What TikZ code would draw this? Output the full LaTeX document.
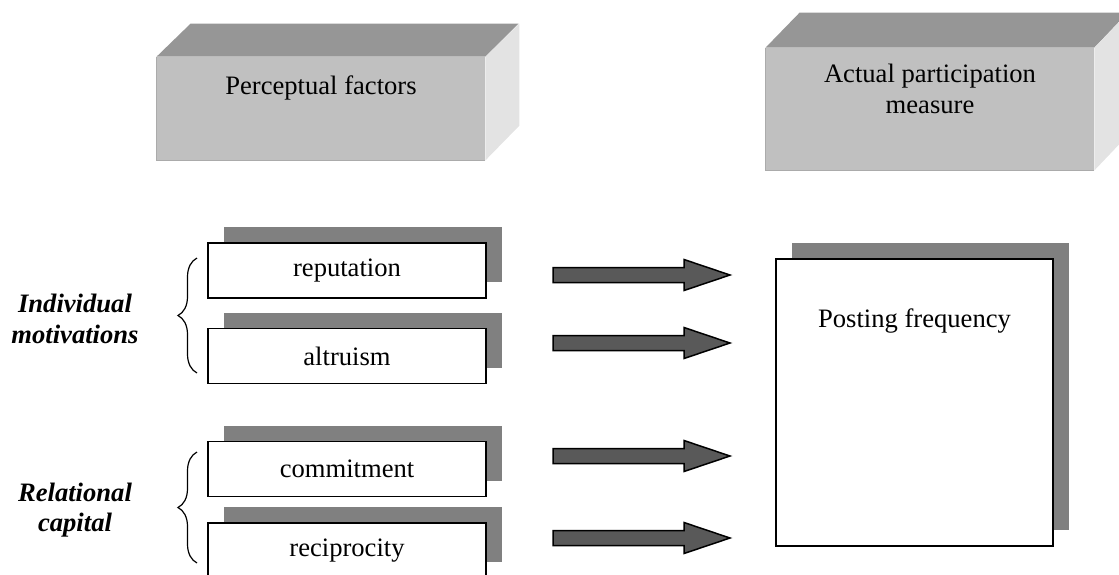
\documentclass[tikz,border=0pt]{standalone}
\usepackage{fontspec}
\setmainfont{Liberation Serif}
\usetikzlibrary{calc,shadows,decorations.pathreplacing}
\definecolor{frontgray}{HTML}{C0C0C0}
\definecolor{topgray}{HTML}{969696}
\definecolor{sidegray}{HTML}{E3E3E3}
\definecolor{shadegray}{HTML}{808080}
\definecolor{arrowgray}{HTML}{595959}
\definecolor{edgegray}{HTML}{ABABAB}
\newcommand{\blockarr}[2]{%
  \draw[blockarrow] ($(#1)+(0,-7.5)$) -- ($(#2)+(-46,-7.5)$) -- ($(#2)+(-46,-15.5)$) -- (#2)
    -- ($(#2)+(-46,15.5)$) -- ($(#2)+(-46,7.5)$) -- ($(#1)+(0,7.5)$) -- cycle;}
\begin{document}
\begin{tikzpicture}[x=0.5pt,y=-0.5pt,
  txt/.style={font=\fontsize{13.3}{15.3}\selectfont},
  grouplab/.style={font=\fontsize{13.3}{15.3}\selectfont\bfseries\itshape, align=center},
  facebox/.style={rectangle, fill=frontgray, minimum width=164pt, inner sep=0pt},
  boxshadow/.style={drop shadow={shadow xshift=8pt, shadow yshift=8pt, opacity=1, fill=shadegray}},
  factorbox/.style={rectangle, draw=black, line width=0.8pt, fill=white, minimum width=139pt,
    minimum height=27.5pt, inner sep=0pt, txt, boxshadow},
  blockarrow/.style={fill=arrowgray, draw=black, line width=0.75pt, line join=miter},
  bracestyle/.style={decorate, decoration={brace, amplitude=9.5pt}, line width=0.6pt}
]
\useasboundingbox (0,0) rectangle (1119,574);
\clip (0,0) rectangle (1119,574);

% 3D header boxes
\node[facebox, minimum height=51.5pt] (pfbox) at (321,108.5) {};
\fill[topgray] (pfbox.north west) -- ++(34,-33) -- ++(328,0) -- (pfbox.north east) -- cycle;
\fill[sidegray] (pfbox.north east) -- ++(34,-33) -- ++(0,102) -- (pfbox.south east) -- cycle;
\draw[edgegray, line width=0.6pt] (pfbox.north west) -- (pfbox.south west) -- (pfbox.south east);
\node[txt] (pftext) at (321,88) {Perceptual factors};

\node[facebox, minimum height=61pt] (ambox) at (930,109) {};
\fill[topgray] (ambox.north west) -- ++(34,-35) -- ++(328,0) -- (ambox.north east) -- cycle;
\fill[sidegray] (ambox.north east) -- ++(34,-35) -- ++(0,122) -- (ambox.south east) -- cycle;
\draw[edgegray, line width=0.6pt] (ambox.north west) -- (ambox.south west) -- (ambox.south east);
\node[txt, align=center] (amtext) at (930,89) {Actual participation\\measure};

% factor boxes
\node[factorbox] (rep) at (347,270.5) {reputation};
\node[factorbox] (alt) at (347,356) {altruism};
\node[factorbox] (com) at (347,469) {commitment};
\node[factorbox] (rec) at (347,550.5) {reciprocity};

% posting frequency
\node[rectangle, draw=black, line width=0.8pt, fill=white, minimum width=138.5pt,
  minimum height=143.5pt, inner sep=0pt, boxshadow] (post) at (914.5,402.5) {};
\node[txt] (posttext) at (914.5,321) {Posting frequency};

% group labels and braces
\node[grouplab] (indiv) at (75,319) {Individual\\motivations};
\node[grouplab] (relcap) at (75,510) {Relational\\capital};
\coordinate (b1top) at (197,258);
\coordinate (b1bot) at (197,373);
\coordinate (b2top) at (197,452);
\coordinate (b2bot) at (197,563);
\draw[bracestyle] (b1bot) -- (b1top);
\draw[bracestyle] (b2bot) -- (b2top);

% block arrows
\coordinate (a1s) at (553,275); \coordinate (a1e) at (730,275);
\coordinate (a2s) at (553,343); \coordinate (a2e) at (730,343);
\coordinate (a3s) at (553,456); \coordinate (a3e) at (730,456);
\coordinate (a4s) at (553,538); \coordinate (a4e) at (730,538);
\blockarr{a1s}{a1e}
\blockarr{a2s}{a2e}
\blockarr{a3s}{a3e}
\blockarr{a4s}{a4e}
\end{tikzpicture}
\end{document}
